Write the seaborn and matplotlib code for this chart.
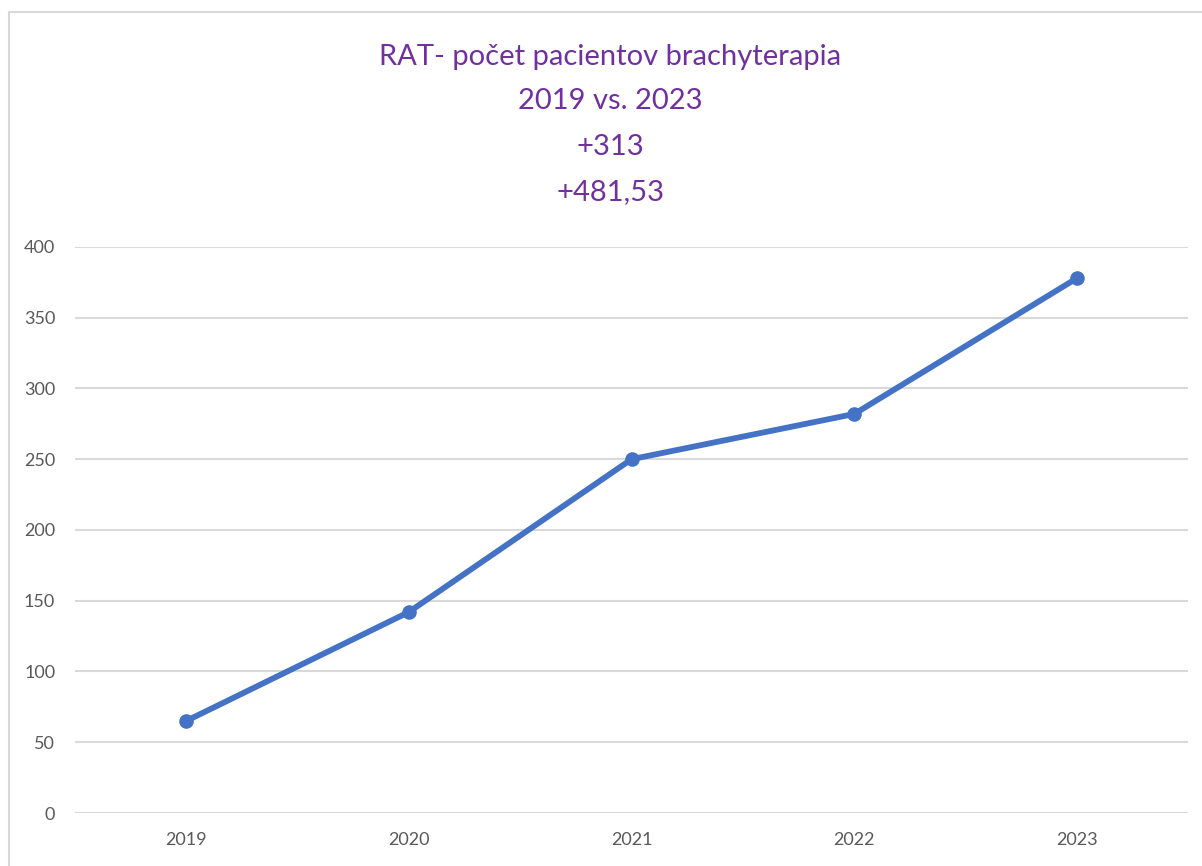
import matplotlib.pyplot as plt
import matplotlib.patches as mpatches
import pandas as pd
import seaborn as sns

years = ["2019", "2020", "2021", "2022", "2023"]
patients = [65, 142, 250, 282, 378]
title_lines = ["RAT- počet pacientov brachyterapia", "2019 vs. 2023", "+313", "+481,53"]

sns.set_theme(style="white")
plt.rcParams['font.family'] = ['Lato', 'DejaVu Sans']

df = pd.DataFrame({"year": years, "patients": patients})

fig = plt.figure(figsize=(12.02, 8.66), dpi=100)
ax = fig.add_axes([0.0621, 0.0612, 0.9266, 0.6536])

sns.lineplot(data=df, x="year", y="patients", ax=ax, color="#4472C4",
             linewidth=4.2, marker="o", markersize=10.5, markeredgewidth=0)

ax.set_xlim(-0.5, 4.5)
ax.set_ylim(0, 400)
ax.set_yticks(range(0, 401, 50))
ax.grid(axis='y', color="#D9D9D9", linewidth=1.5)
ax.set_axisbelow(True)
for s in ax.spines.values():
    s.set_visible(False)
ax.tick_params(axis='both', length=0, labelsize=13, labelcolor="#595959")
ax.tick_params(axis='y', pad=14)
ax.tick_params(axis='x', pad=14)
ax.set_xlabel("")
ax.set_ylabel("")

# chart frame (cropped at right and bottom)
frame = mpatches.Rectangle((9 / 1202, -0.1), 1.2, 0.1 + (1 - 12 / 866),
                           transform=fig.transFigure, fill=False,
                           edgecolor="#D9D9D9", linewidth=1.5)
fig.patches.append(frame)

title_y = [57, 101, 147, 192]
for line, yp in zip(title_lines, title_y):
    fig.text(610 / 1202, 1 - yp / 866, line, ha='center', va='center',
             fontsize=21, color="#7030A0")

plt.savefig("out.png", dpi=100)
